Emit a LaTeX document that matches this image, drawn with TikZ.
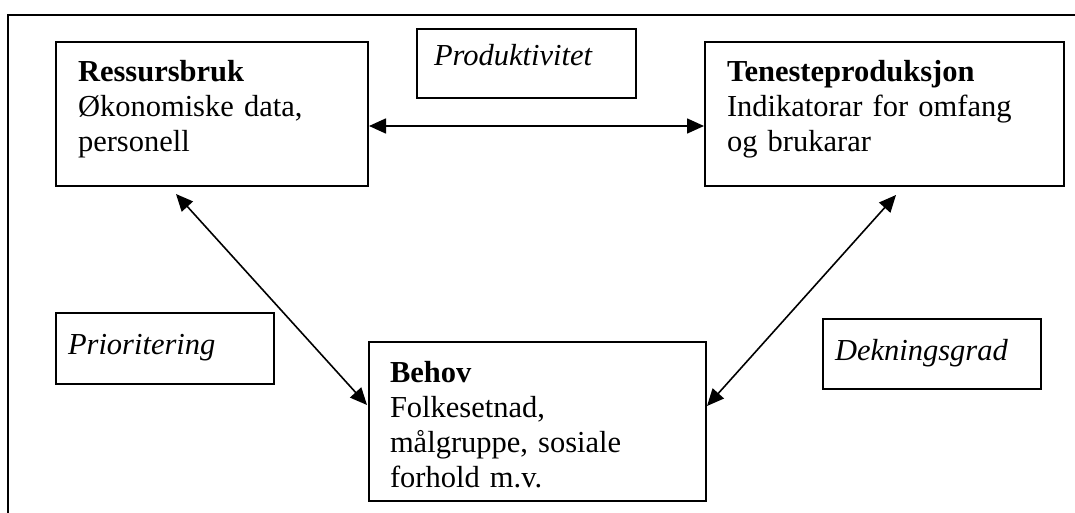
\documentclass[tikz,border=0pt]{standalone}
\usepackage{fontspec}
\setmainfont{Liberation Serif}
\usetikzlibrary{arrows.meta}
\newcommand{\topstrut}[1]{\rule{0pt}{#1pt}}
\newcommand{\botstrut}[1]{\rule[-#1pt]{0pt}{#1pt}}
\begin{document}
\begin{tikzpicture}[x=1pt,y=-1pt,
  box/.style={draw, line width=2pt, rectangle, anchor=north west, align=left,
    inner ysep=0pt, font=\fontsize{30.5}{35}\selectfont},
  conn/.style={line width=1.6pt, {Triangle[length=17pt,width=15pt]}-{Triangle[length=17pt,width=15pt]}},
  frameline/.style={line width=2pt}
]
\useasboundingbox (0,0) rectangle (1075,513);
% outer frame (top and left only)
\coordinate (fa) at (1075,15);
\coordinate (fb) at (8,15);
\coordinate (fc) at (8,513);
\draw[frameline] (fa) -- (fb) -- (fc);

\node[box, inner xsep=22pt, text width=268pt] (R) at (55,41)
  {\topstrut{40}\textbf{Ressursbruk}\\ Økonomiske data,\\ personell\botstrut{34}};
\node[box, inner xsep=22pt, text width=315pt] (T) at (704,41)
  {\topstrut{40}\textbf{Tenesteproduksjon}\\ Indikatorar for omfang\\ og brukarar\botstrut{34}};
\node[box, inner xsep=21pt, text width=295pt] (B) at (368,341)
  {\topstrut{40}\textbf{Behov}\\ Folkesetnad,\\ målgruppe, sosiale\\ forhold m.v.\botstrut{14}};

\node[box, inner xsep=17pt, text width=185pt] (P) at (416,28)
  {\topstrut{37}\textit{Produktivitet}\botstrut{32}};
\node[box, inner xsep=12pt, text width=194pt] (Pr) at (55,312)
  {\topstrut{41}\textit{Prioritering}\botstrut{30}};
\node[box, inner xsep=12pt, text width=194pt] (D) at (822,318)
  {\topstrut{41}\textit{Dekningsgrad}\botstrut{29}};

\draw[conn] ([yshift=-85pt]R.north east) -- ([yshift=-85pt]T.north west);
\draw[conn] ([xshift=121pt,yshift=-7pt]R.south west) -- ([xshift=-1pt,yshift=-64pt]B.north west);
\draw[conn] ([yshift=-65pt]B.north east) -- ([xshift=192pt,yshift=-8pt]T.south west);
\end{tikzpicture}
\end{document}
